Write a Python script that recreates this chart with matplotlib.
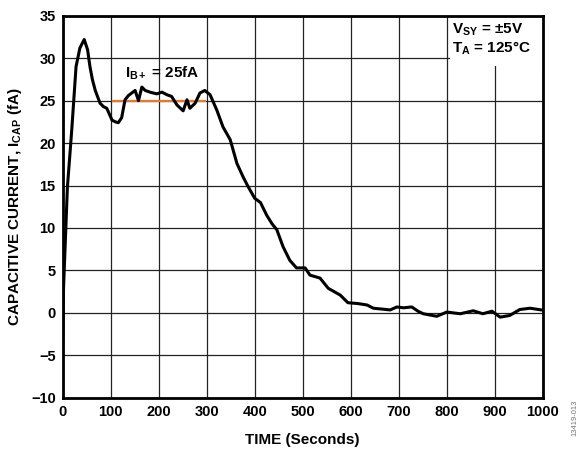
import matplotlib
matplotlib.use("Agg")
import matplotlib.pyplot as plt
from matplotlib.patches import Rectangle

# ---------------- DATA ----------------
time_s = [0, 2, 10, 19, 28, 36, 45, 52, 57, 62, 68, 78, 85, 92, 103, 110, 116,
          123, 130, 137, 144, 151, 158, 165, 172, 182, 196, 207, 217, 227, 238,
          251, 259, 265, 276, 286, 296, 307, 321, 334, 349, 363, 376, 386, 400,
          412, 425, 436, 446, 459, 473, 487, 505, 515, 536, 553, 578, 594, 615,
          634, 647, 665, 682, 696, 710, 727, 740, 751, 779, 800, 828, 855, 875,
          894, 911, 931, 952, 973, 997, 1000]
i_cap = [-3.5, 3, 14.8, 21.5, 29, 31.2, 32.2, 31, 29, 27.5, 26.2, 24.7, 24.3,
         24.1, 22.7, 22.5, 22.4, 23, 25.1, 25.6, 25.9, 26.2, 25, 26.6, 26.2,
         26, 25.8, 26, 25.7, 25.5, 24.5, 23.8, 25.1, 24.1, 24.7, 25.9, 26.2,
         25.7, 23.9, 21.9, 20.4, 17.6, 16, 14.9, 13.5, 13, 11.5, 10.5, 9.8, 7.8,
         6.2, 5.3, 5.3, 4.45, 4.1, 2.9, 2.1, 1.2, 1.1, 0.93, 0.55, 0.45, 0.35,
         0.7, 0.6, 0.7, 0.2, -0.1, -0.4, 0.1, -0.1, 0.25, -0.1, 0.2, -0.5, -0.3,
         0.4, 0.55, 0.35, 0.35]

ib_time = [105, 296]
ib_level = [25, 25]

x_ticks = [0, 100, 200, 300, 400, 500, 600, 700, 800, 900, 1000]
y_ticks = [-10, -5, 0, 5, 10, 15, 20, 25, 30, 35]

# ---------------- STYLE ----------------
plt.rcParams["font.family"] = ["Liberation Sans", "DejaVu Sans"]
plt.rcParams["font.weight"] = "bold"
plt.rcParams["mathtext.fontset"] = "custom"
plt.rcParams["mathtext.rm"] = "Liberation Sans:bold"
plt.rcParams["mathtext.bf"] = "Liberation Sans:bold"
plt.rcParams["mathtext.it"] = "Liberation Sans:bold"

fig = plt.figure(figsize=(5.85, 4.5), dpi=100)
ax = fig.add_axes([0.107, 0.116, 0.821, 0.849])

ax.plot(time_s, i_cap, color="black", linewidth=2.2, zorder=4)
ax.plot(ib_time, ib_level, color="#e8782a", linewidth=1.6, zorder=3)

ax.set_xlim(0, 1000)
ax.set_ylim(-10, 35)
ax.set_xticks(x_ticks)
ax.set_yticks(y_ticks)
ax.tick_params(length=0, labelsize=10.5, pad=5)
for lbl in ax.get_xticklabels() + ax.get_yticklabels():
    lbl.set_fontweight("bold")

ax.grid(True, color="#222222", linewidth=0.9)
ax.set_axisbelow(True)
for sp in ax.spines.values():
    sp.set_linewidth(2)
    sp.set_zorder(6)

# white box behind the conditions text
ax.add_patch(Rectangle((0.806, 0.868), 0.194, 0.132, transform=ax.transAxes,
                       facecolor="white", edgecolor="none", zorder=2))
ax.text(0.81, 0.985, "V$_{SY}$ = \u00b15V\nT$_{A}$ = 125\u00b0C",
        transform=ax.transAxes, fontsize=11, fontweight="bold",
        va="top", ha="left", zorder=5, linespacing=1.1)

ax.text(130, 27.2, "I$_{B+}$ = 25fA", fontsize=11, fontweight="bold",
        ha="left", va="bottom", zorder=5)

ax.set_xlabel("TIME (Seconds)", fontsize=11, fontweight="bold", labelpad=10)
ax.set_ylabel("CAPACITIVE CURRENT, I$_{CAP}$ (fA)", fontsize=11,
              fontweight="bold", labelpad=5)

fig.text(0.982, 0.03, "13419-013", rotation=90, fontsize=5.5,
         color="#777777", fontweight="normal", ha="center", va="bottom")

fig.savefig("out.png", dpi=100)
plt.close(fig)
